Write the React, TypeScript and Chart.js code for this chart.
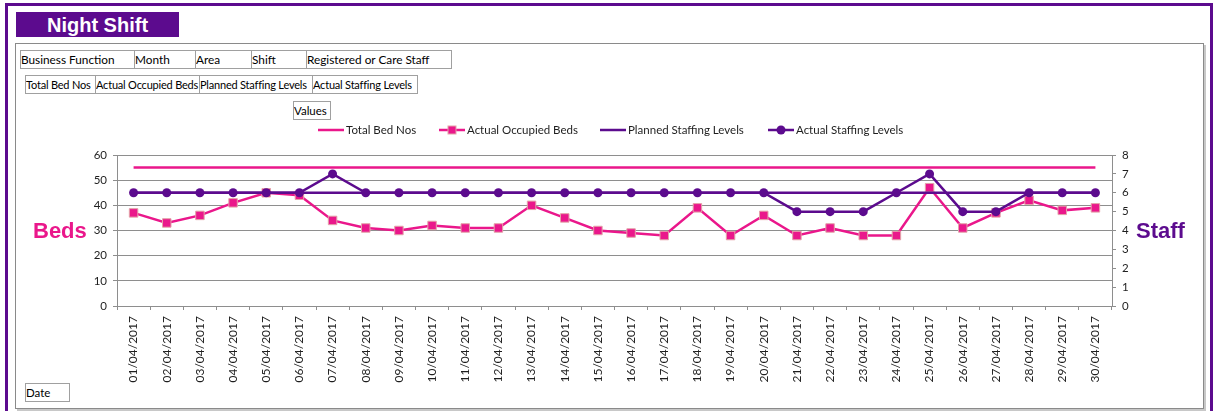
import React, { useEffect, useRef } from "react";
import { Chart, registerables } from "chart.js";

Chart.register(...registerables);

const dates = [
  "01/04/2017", "02/04/2017", "03/04/2017", "04/04/2017", "05/04/2017",
  "06/04/2017", "07/04/2017", "08/04/2017", "09/04/2017", "10/04/2017",
  "11/04/2017", "12/04/2017", "13/04/2017", "14/04/2017", "15/04/2017",
  "16/04/2017", "17/04/2017", "18/04/2017", "19/04/2017", "20/04/2017",
  "21/04/2017", "22/04/2017", "23/04/2017", "24/04/2017", "25/04/2017",
  "26/04/2017", "27/04/2017", "28/04/2017", "29/04/2017", "30/04/2017",
];

const totalBedNos = [
  55, 55, 55, 55, 55, 55, 55, 55, 55, 55,
  55, 55, 55, 55, 55, 55, 55, 55, 55, 55,
  55, 55, 55, 55, 55, 55, 55, 55, 55, 55,
];

const actualOccupiedBeds = [
  37, 33, 36, 41, 45, 44, 34, 31, 30, 32,
  31, 31, 40, 35, 30, 29, 28, 39, 28, 36,
  28, 31, 28, 28, 47, 31, 37, 42, 38, 39,
];

const plannedStaffing = [
  6, 6, 6, 6, 6, 6, 6, 6, 6, 6,
  6, 6, 6, 6, 6, 6, 6, 6, 6, 6,
  6, 6, 6, 6, 6, 6, 6, 6, 6, 6,
];

const actualStaffing = [
  6, 6, 6, 6, 6, 6, 7, 6, 6, 6,
  6, 6, 6, 6, 6, 6, 6, 6, 6, 6,
  5, 5, 5, 6, 7, 5, 5, 6, 6, 6,
];

const seriesLabels = [
  "Total Bed Nos",
  "Actual Occupied Beds",
  "Planned Staffing Levels",
  "Actual Staffing Levels",
];

const fieldRow1 = ["Business Function", "Month", "Area", "Shift", "Registered or Care Staff"];
const fieldRow1X = [20, 134, 195, 251, 306, 451];
const fieldRow2 = ["Total Bed Nos", "Actual Occupied Beds", "Planned Staffing Levels", "Actual Staffing Levels"];
const fieldRow2X = [25, 95, 199, 312, 417];

const PINK = "#EA178B";
const PURPLE = "#5C0B8E";
const GRID = "#8E8E8E";
const TEXT = "#1E1E1E";
const FONT = "Lato, 'Open Sans', sans-serif";

const legendX = [318, 439, 600, 768];
const LEGEND_Y = 130;

const legendPlugin = {
  id: "excelLegend",
  afterDraw(chart: any) {
    const ctx = chart.ctx as CanvasRenderingContext2D;
    ctx.save();
    ctx.font = `11.5px ${FONT}`;
    ctx.textBaseline = "middle";
    ctx.textAlign = "left";
    chart.data.datasets.forEach((ds: any, i: number) => {
      const x = legendX[i];
      const y = LEGEND_Y;
      ctx.strokeStyle = ds.borderColor;
      ctx.lineWidth = 2.5;
      ctx.beginPath();
      ctx.moveTo(x, y);
      ctx.lineTo(x + 26, y);
      ctx.stroke();
      if (ds.pointRadius > 0) {
        ctx.fillStyle = ds.pointBackgroundColor;
        if (ds.pointStyle === "rect") {
          ctx.fillRect(x + 13 - 4, y - 4, 8, 8);
          ctx.strokeStyle = ds.pointBorderColor;
          ctx.lineWidth = 1;
          ctx.strokeRect(x + 13 - 4, y - 4, 8, 8);
        } else {
          ctx.beginPath();
          ctx.arc(x + 13, y, 4.5, 0, Math.PI * 2);
          ctx.fill();
        }
      }
      ctx.fillStyle = TEXT;
      ctx.fillText(ds.label, x + 28, y + 0.5);
    });
    ctx.restore();
  },
};

const boxStyle = (
  left: number,
  top: number,
  width: number,
  height: number,
  fontSize = 11,
  letterSpacing = -0.2
): React.CSSProperties => ({
  position: "absolute",
  left,
  top,
  width,
  height,
  boxSizing: "border-box",
  border: "1px solid #A0A0A0",
  background: "#fff",
  fontFamily: FONT,
  fontSize,
  letterSpacing: `${letterSpacing}px`,
  lineHeight: `${height - 2}px`,
  color: "#000",
  paddingLeft: 0,
  whiteSpace: "nowrap",
  overflow: "hidden",
});

export default function App() {
  const canvasRef = useRef<HTMLCanvasElement | null>(null);

  useEffect(() => {
    if (!canvasRef.current) return;
    const chart = new Chart(canvasRef.current, {
      type: "line",
      data: {
        labels: dates,
        datasets: [
          {
            label: seriesLabels[0],
            data: totalBedNos,
            yAxisID: "y",
            borderColor: PINK,
            backgroundColor: PINK,
            borderWidth: 2.5,
            pointRadius: 0,
            order: 4,
          },
          {
            label: seriesLabels[1],
            data: actualOccupiedBeds,
            yAxisID: "y",
            borderColor: PINK,
            backgroundColor: PINK,
            borderWidth: 2.5,
            pointStyle: "rect",
            pointRadius: 6,
            pointBackgroundColor: PINK,
            pointBorderColor: "#E3A3A8",
            pointBorderWidth: 1,
            order: 3,
          },
          {
            label: seriesLabels[2],
            data: plannedStaffing,
            yAxisID: "y1",
            borderColor: PURPLE,
            backgroundColor: PURPLE,
            borderWidth: 2.5,
            pointRadius: 0,
            order: 2,
          },
          {
            label: seriesLabels[3],
            data: actualStaffing,
            yAxisID: "y1",
            borderColor: PURPLE,
            backgroundColor: PURPLE,
            borderWidth: 2.5,
            pointStyle: "circle",
            pointRadius: 4.5,
            pointBackgroundColor: PURPLE,
            pointBorderColor: PURPLE,
            pointBorderWidth: 0,
            order: 1,
          },
        ] as any,
      },
      options: {
        responsive: false,
        animation: false,
        devicePixelRatio: 1,
        layout: { padding: { left: 77, right: 61, top: 155, bottom: 9 } },
        elements: { line: { tension: 0 } },
        plugins: {
          legend: { display: false },
          tooltip: { enabled: false },
        },
        scales: {
          x: {
            offset: true,
            grid: { offset: true, drawOnChartArea: false, drawTicks: true, tickLength: 4, color: GRID },
            border: { color: GRID },
            ticks: {
              minRotation: 90,
              maxRotation: 90,
              autoSkip: false,
              padding: 6,
              color: TEXT,
              font: { family: FONT, size: 12 },
            },
            afterFit: (s: any) => {
              s.height = 96;
            },
          },
          y: {
            position: "left",
            min: 0,
            max: 60,
            ticks: { stepSize: 10, padding: 6, color: TEXT, font: { family: FONT, size: 11.5 } },
            grid: { color: GRID, tickLength: 4 },
            border: { color: GRID },
            afterFit: (s: any) => {
              s.width = 40;
            },
          },
          y1: {
            position: "right",
            min: 0,
            max: 8,
            ticks: { stepSize: 1, padding: 6, color: TEXT, font: { family: FONT, size: 11.5 } },
            grid: { drawOnChartArea: false, tickLength: 4, color: GRID },
            border: { color: GRID },
            afterFit: (s: any) => {
              s.width = 40;
            },
          },
        },
      } as any,
      plugins: [legendPlugin],
    });
    return () => chart.destroy();
  }, []);

  return (
    <div style={{ position: "absolute", left: 0, top: 0, width: 1213, height: 411, overflow: "hidden", background: "#fff" }}>
      <div
        style={{
          position: "absolute",
          left: 5,
          top: 3,
          width: 1208,
          height: 430,
          boxSizing: "border-box",
          border: `3px solid ${PURPLE}`,
        }}
      />
      <div
        style={{
          position: "absolute",
          left: 16,
          top: 12,
          width: 163,
          height: 25,
          background: PURPLE,
          color: "#fff",
          fontFamily: "'Liberation Sans', Arial, sans-serif",
          fontWeight: "bold",
          fontSize: 20,
          lineHeight: "26px",
          textAlign: "center",
        }}
      >
        Night Shift
      </div>
      <div
        style={{
          position: "absolute",
          left: 15,
          top: 43,
          width: 1189,
          height: 366,
          boxSizing: "border-box",
          border: "1px solid #8A8A8A",
          boxShadow: "2px 2px 0 #C8C8C8",
          background: "#fff",
        }}
      />
      {fieldRow1.map((t, i) => (
        <div key={"r1" + i} style={boxStyle(fieldRow1X[i], 50, fieldRow1X[i + 1] - fieldRow1X[i] + 1, 19, 11.8, 0)}>
          {t}
        </div>
      ))}
      {fieldRow2.map((t, i) => (
        <div key={"r2" + i} style={boxStyle(fieldRow2X[i], 75, fieldRow2X[i + 1] - fieldRow2X[i] + 1, 19)}>
          {t}
        </div>
      ))}
      <div style={boxStyle(293, 101, 38, 19, 11.5, 0)}>Values</div>
      <div style={boxStyle(25, 383, 45, 19, 11.5, 0)}>Date</div>
      <canvas
        ref={canvasRef}
        width={1213}
        height={411}
        style={{ position: "absolute", left: 0, top: 0, width: 1213, height: 411 }}
      />
      <div
        style={{
          position: "absolute",
          left: 33,
          top: 218,
          fontFamily: "'Liberation Sans', Arial, sans-serif",
          fontWeight: "bold",
          fontSize: 22,
          lineHeight: "26px",
          color: PINK,
        }}
      >
        Beds
      </div>
      <div
        style={{
          position: "absolute",
          left: 1136,
          top: 218,
          fontFamily: "'Liberation Sans', Arial, sans-serif",
          fontWeight: "bold",
          fontSize: 22,
          lineHeight: "26px",
          color: PURPLE,
        }}
      >
        Staff
      </div>
    </div>
  );
}
